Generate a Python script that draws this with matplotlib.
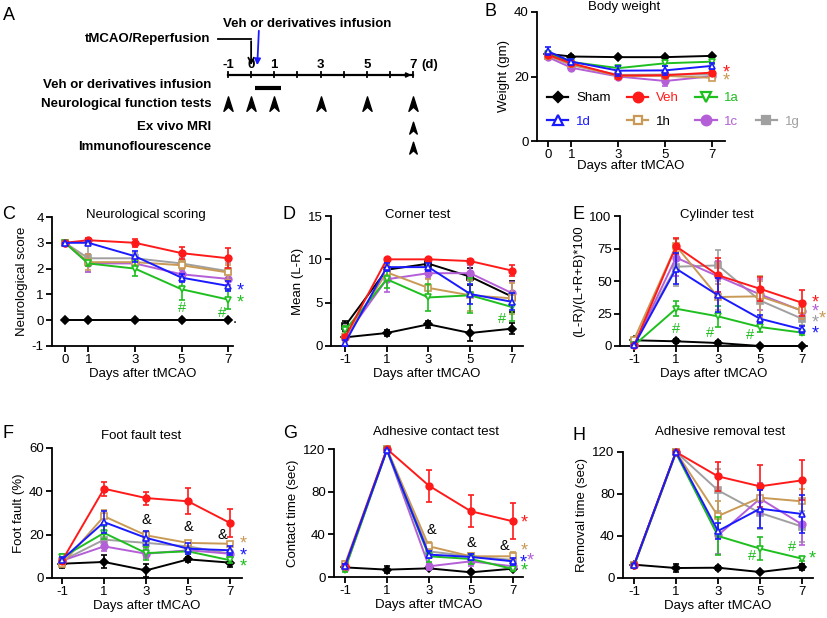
import matplotlib
matplotlib.use("Agg")
import matplotlib.pyplot as plt
from matplotlib.lines import Line2D
from matplotlib.path import Path
import numpy as np

plt.rcParams['font.family'] = ['Liberation Sans', 'DejaVu Sans']
plt.rcParams['axes.unicode_minus'] = False
FS = 9.5

# ---------------- data ----------------
series = ['Sham', 'Veh', '1a', '1d', '1h', '1c', '1g']
draw_order = ['Sham', '1g', '1c', '1h', '1a', 'Veh', '1d']

days_B = [0, 1, 3, 5, 7]
days_C = [0, 1, 3, 5, 7]
days_test = [-1, 1, 3, 5, 7]

B_mean = {'Sham': [27.0, 26.2, 26.0, 26.0, 26.4], 'Veh': [26.7, 24.1, 20.3, 20.4, 21.2],
          '1a': [27.0, 24.5, 22.6, 24.1, 24.6], '1d': [27.8, 24.6, 21.8, 21.9, 23.3],
          '1h': [26.5, 23.8, 20.1, 20.2, 19.6], '1c': [26.0, 22.7, 20.0, 18.6, 20.1],
          '1g': [26.5, 23.5, 20.5, 20.6, 20.6]}
B_err = {'Sham': [0.5, 0.4, 0.4, 0.4, 0.4], 'Veh': [0.8, 0.6, 0.6, 0.6, 0.8],
         '1a': [0.8, 0.6, 0.8, 0.8, 0.8], '1d': [1.2, 0.8, 1.5, 1.5, 1.0],
         '1h': [0.8, 0.6, 0.6, 0.6, 0.8], '1c': [0.6, 0.6, 0.6, 1.5, 0.8],
         '1g': [0.6, 0.6, 0.6, 0.6, 0.6]}

C_mean = {'Sham': [0, 0, 0, 0, 0], 'Veh': [3.0, 3.1, 3.0, 2.6, 2.4],
          '1a': [3.0, 2.2, 2.0, 1.2, 0.8], '1d': [3.0, 3.0, 2.48, 1.65, 1.33],
          '1h': [3.0, 2.25, 2.25, 2.13, 1.85], '1c': [3.0, 2.2, 2.2, 1.78, 1.6],
          '1g': [3.0, 2.4, 2.4, 2.2, 1.9]}
C_err = {'Sham': [0, 0, 0, 0, 0], 'Veh': [0, 0.1, 0.15, 0.22, 0.38],
         '1a': [0, 0.1, 0.3, 0.4, 0.38], '1d': [0, 0.08, 0.22, 0.15, 0.2],
         '1h': [0, 0.3, 0.2, 0.15, 0.3], '1c': [0, 0.35, 0.15, 0.15, 0.25],
         '1g': [0, 0.55, 0.2, 0.2, 0.3]}

D_mean = {'Sham': [1.0, 1.5, 2.5, 1.5, 2.0], 'Veh': [1.0, 10.0, 10.0, 9.8, 8.7],
          '1a': [1.8, 7.7, 5.6, 5.85, 4.5], '1d': [0.35, 9.1, 9.1, 6.0, 5.1],
          '1h': [1.0, 8.5, 6.7, 5.85, 5.5], '1c': [1.0, 7.7, 8.4, 8.4, 6.1],
          '1g': [2.3, 8.8, 9.5, 8.0, 5.7]}
D_err = {'Sham': [0.0, 0.4, 0.4, 0.9, 0.6], 'Veh': [0.3, 0.2, 0.2, 0.2, 0.65],
         '1a': [0.5, 1.0, 1.6, 2.0, 1.6], '1d': [0.4, 0.5, 0.5, 1.2, 1.0],
         '1h': [0.5, 0.8, 1.0, 1.8, 1.8], '1c': [0.4, 1.5, 0.5, 0.9, 1.3],
         '1g': [0.6, 0.5, 0.3, 1.0, 1.8]}

E_mean = {'Sham': [4.4, 3.6, 2.3, 0, 0], 'Veh': [0.5, 76.7, 54.4, 44, 33.3],
          '1a': [0.5, 28.7, 22.8, 14.6, 10.3], '1d': [0.5, 59.5, 39, 21, 12.8],
          '1h': [5.0, 77, 37.7, 38.2, 27.4], '1c': [0.5, 68, 53.6, 39.7, 27],
          '1g': [2.0, 61, 62, 35, 21]}
E_err = {'Sham': [0.5, 1.5, 1.5, 0, 0], 'Veh': [0.5, 6, 13, 9, 10],
         '1a': [0.5, 6, 8, 4, 2], '1d': [0.5, 12, 13, 3, 2.5],
         '1h': [1.5, 5, 10, 16, 7], '1c': [0.5, 14, 12, 12, 6],
         '1g': [1.0, 15, 12, 15, 5]}

F_mean = {'Sham': [6.6, 7.4, 3.5, 8.6, 7.1], 'Veh': [8.0, 41.2, 36.9, 35.4, 25.4],
          '1a': [9.5, 20.8, 11.5, 12.3, 8.2], '1d': [8.5, 25.8, 18.5, 13.5, 12.8],
          '1h': [6.5, 28.5, 19.7, 16.2, 15.8], '1c': [8.0, 14.6, 11.2, 12.8, 11.2],
          '1g': [8.0, 17.7, 16.2, 14.6, 11.2]}
F_err = {'Sham': [2.2, 3.0, 3.0, 1.0, 2.0], 'Veh': [1.0, 3.2, 3.0, 6.0, 6.5],
         '1a': [1.5, 3.0, 3.0, 1.0, 1.5], '1d': [1.0, 5.0, 3.2, 2.5, 2.0],
         '1h': [1.0, 3.0, 2.0, 1.0, 1.0], '1c': [1.0, 2.0, 2.0, 1.0, 1.0],
         '1g': [1.0, 2.5, 2.0, 1.5, 1.5]}

G_mean = {'Sham': [9.0, 6.9, 8.1, 4.4, 7.8], 'Veh': [10, 120, 85.6, 61.6, 52.2],
          '1a': [7, 119, 19.4, 16.9, 7.5], '1d': [10, 119, 21, 18.8, 14.7],
          '1h': [12, 120, 28.8, 19.4, 19.4], '1c': [8, 119, 10, 14.7, 10],
          '1g': [10, 120, 24, 19.4, 16]}
G_err = {'Sham': [1, 3, 2, 1, 1], 'Veh': [2, 0, 15, 15, 17],
         '1a': [2, 0, 5, 5, 2], '1d': [2, 0, 3, 3, 3],
         '1h': [3, 0, 4, 3, 4], '1c': [2, 0, 3, 4, 3],
         '1g': [2, 0, 4, 3, 3]}

H_mean = {'Sham': [12.7, 9.5, 9.8, 5.7, 10.5], 'Veh': [12, 120, 96.8, 87.3, 93],
          '1a': [11, 119, 40, 28, 18.4], '1d': [12, 120, 44.8, 66, 61],
          '1h': [12, 120, 59, 76.5, 73], '1c': [12, 120, 40.6, 75.6, 51],
          '1g': [12, 120, 83.5, 62, 49]}
H_err = {'Sham': [1, 4, 2, 1, 3], 'Veh': [1, 0, 14, 20, 19],
         '1a': [1, 0, 18, 11, 2], '1d': [1, 0, 8, 18, 18],
         '1h': [2, 0, 14, 12, 12], '1c': [1, 0, 18, 15, 20],
         '1g': [1, 0, 20, 15, 15]}

# significance marks: (text, day, value, series-colour key)
B_marks = [('*', 7.6, 21.1, 'Veh'), ('*', 7.6, 18.6, '1h')]
C_marks = [('*', 7.5, 1.15, '1d'), ('*', 7.5, 0.68, '1a'), ('#', 5.0, 0.48, '1a'),
           ('#', 6.75, 0.26, '1a'), ('.', 7.3, 0.05, 'Sham')]
D_marks = [('#', 6.52, 3.15, '1a')]
E_marks = [('*', 7.62, 33, 'Veh'), ('*', 7.62, 26, '1c'), ('*', 7.95, 21, '1h'),
           ('*', 7.62, 17.7, '1g'), ('*', 7.62, 9.5, '1d'), ('#', 1.0, 13.3, '1a'),
           ('#', 2.62, 10.3, '1a'), ('#', 4.52, 8.2, '1a')]
F_marks = [('&', 3.0, 27, 'Sham'), ('&', 5.0, 23.5, 'Sham'), ('&', 6.62, 19.7, 'Sham'),
           ('*', 7.62, 15.8, '1h'), ('*', 7.62, 10.2, '1d'), ('*', 7.62, 5.1, '1a')]
G_marks = [('&', 3.14, 44.4, 'Sham'), ('&', 5.0, 32, 'Sham'), ('&', 6.57, 28.8, 'Sham'),
           ('*', 7.52, 50.6, 'Veh'), ('*', 7.52, 24.7, '1h'), ('*', 7.5, 13, '1d'),
           ('*', 7.82, 15.3, '1c'), ('*', 7.52, 5.3, '1a')]
H_marks = [('#', 4.62, 20.6, '1a'), ('#', 6.52, 29.5, '1a'), ('*', 7.5, 18.4, '1a')]

# schematic (panel A)
timeline_days = list(range(-1, 8))
timeline_labels = ['-1', '0', '1', '3', '5', '7']
test_days = [-1, 0, 1, 3, 5, 7]
mri_days = [7]
if_days = [7]
infusion_span = [0.17, 1.29]

# ---------------- styles ----------------
colors = {'Sham': '#000000', 'Veh': '#ff1a1a', '1a': '#1fbf1f', '1d': '#1a1aff',
          '1h': '#c99a55', '1c': '#b45fd8', '1g': '#a0a0a0'}
markers = {'Sham': 'D', 'Veh': 'o', '1a': 'v', '1d': '^', '1h': 's', '1c': 'o', '1g': 's'}
filled = {'Sham': True, 'Veh': True, '1a': False, '1d': False, '1h': False, '1c': True, '1g': True}
msize = {'Sham': 3.6, 'Veh': 4.8, '1a': 4.6, '1d': 4.6, '1h': 4.2, '1c': 4.8, '1g': 4.2}
legend_text_colors = {'Sham': '#000000', 'Veh': '#ff1a1a', '1a': '#1fbf1f', '1d': '#1a1aff',
                      '1h': '#000000', '1c': '#b45fd8', '1g': '#a0a0a0'}

W, H = 827, 618
fig = plt.figure(figsize=(W / 100, H / 100), dpi=100)


def ax_px(l, t, r, b):
    return fig.add_axes([l / W, 1 - b / H, (r - l) / W, (b - t) / H])


def style_axes(ax, xlim, ylim, xticks, yticks):
    ax.set_xlim(*xlim)
    ax.set_ylim(*ylim)
    ax.set_xticks(xticks)
    ax.set_yticks(yticks)
    for s in ('top', 'right'):
        ax.spines[s].set_visible(False)
    for s in ('left', 'bottom'):
        ax.spines[s].set_linewidth(1.3)
    ax.tick_params(direction='out', length=4, width=1.3, labelsize=FS, pad=2)
    ax.set_facecolor('none')


def draw(ax, days, mean, err, overrides=None):
    overrides = overrides or {}
    for z, name in enumerate(draw_order):
        c = overrides.get(name, {}).get('color', colors[name])
        mfc = overrides.get(name, {}).get('mfc', c if filled[name] else 'white')
        ax.errorbar(days, mean[name], yerr=err[name], color=c, marker=markers[name],
                    ms=msize[name], mfc=mfc, mec=c, mew=1.2, lw=1.4, elinewidth=1.2,
                    capsize=2.5, capthick=1.2, clip_on=False, zorder=3 + z)


def marks(ax, lst):
    for txt, x, y, key in lst:
        if txt == '*':
            ax.text(x, y, txt, color=colors[key], fontsize=13, ha='center', va='center',
                    clip_on=False, zorder=20)
        else:
            ax.text(x, y, txt, color=colors[key], fontsize=FS + 1, ha='center', va='center',
                    clip_on=False, zorder=20)


def ptext(x, y, s, **kw):
    fig.text(x / W, 1 - y / H, s, **kw)


# ---------------- panel A ----------------
axA = ax_px(0, 0, 430, 170)
px_per_day = 23.125
axA.set_xlim(-1 - 228 / px_per_day, -1 + 202 / px_per_day)
axA.set_ylim(170, 0)
axA.axis('off')
bold = dict(fontsize=FS, fontweight='bold', va='center')
axA.plot([timeline_days[0], timeline_days[-1]], [75, 75], color='black', lw=1.6)
axA.annotate('', xy=(timeline_days[-1] + 0.05, 75), xytext=(timeline_days[-1] - 0.3, 75),
             arrowprops=dict(arrowstyle='-|>', color='black', lw=1.2, mutation_scale=7))
for d in timeline_days:
    axA.plot([d, d], [72.5, 77.5], color='black', lw=1.3)
for lab in timeline_labels:
    axA.text(int(lab), 65, lab, ha='center', **bold)
axA.text(timeline_days[-1] + 0.38, 65, '(d)', ha='left', **bold)
axA.text(-1.216, 24, 'Veh or derivatives infusion', ha='left', **bold)
axA.text(-1.78, 39, 'tMCAO/Reperfusion', ha='right', **bold)
axA.plot([-1.45, 0], [39, 39], color='black', lw=1.3)
axA.annotate('', xy=(0, 68), xytext=(0, 38.4),
             arrowprops=dict(arrowstyle='->', color='black', lw=1.3, mutation_scale=10))
axA.annotate('', xy=(0.26, 68), xytext=(0.34, 28),
             arrowprops=dict(arrowstyle='-|>', color='#1a1aff', lw=1.3, mutation_scale=9))
axA.text(-1.735, 85, 'Veh or derivatives infusion', ha='right', **bold)
axA.plot(infusion_span, [88, 88], color='black', lw=3, solid_capstyle='butt')
axA.text(-1.735, 104, 'Neurological function tests', ha='right', **bold)
axA.text(-1.735, 127, 'Ex vivo MRI', ha='right', **bold)
axA.text(-1.735, 147, 'Immunoflourescence', ha='right', **bold)
head = Path([(0, 1), (0.6, -0.9), (0, -0.35), (-0.6, -0.9), (0, 1)],
            [Path.MOVETO, Path.LINETO, Path.LINETO, Path.LINETO, Path.CLOSEPOLY])
axA.plot(test_days, [104] * len(test_days), ls='none', marker=head, ms=11, color='black')
axA.plot(mri_days, [128] * len(mri_days), ls='none', marker=head, ms=9, color='black')
axA.plot(if_days, [148] * len(if_days), ls='none', marker=head, ms=9, color='black')
ptext(3, 15, 'A', fontsize=13, va='center', ha='left')

# ---------------- panel B ----------------
axB = ax_px(537, 12, 725, 141)
style_axes(axB, (-0.47, 7.55), (0, 40), days_B, [0, 20, 40])
draw(axB, days_B, B_mean, B_err)
marks(axB, B_marks)
axB.set_ylabel('Weight (gm)', fontsize=FS, labelpad=3)
axB.set_xlabel('Days after tMCAO', fontsize=FS, labelpad=-1)
ptext(624, 7, 'Body weight', fontsize=FS, ha='center', va='center')
ptext(485, 12, 'B', fontsize=13, va='center', ha='left')
order_leg = ['Sham', '1d', 'Veh', '1h', '1a', '1c', None, '1g']
handles, labels = [], []
for name in order_leg:
    if name is None:
        handles.append(Line2D([], [], alpha=0))
        labels.append('')
        continue
    handles.append(Line2D([], [], color=colors[name], marker=markers[name],
                          ms=msize[name] * 1.45, mfc=colors[name] if filled[name] else 'white',
                          mec=colors[name], mew=1.6, lw=1.6))
    labels.append(name)
leg = axB.legend(handles, labels, ncol=4, loc='upper left', frameon=False,
                 bbox_to_anchor=(547 / W, 1 - 92 / H), bbox_transform=fig.transFigure,
                 fontsize=FS, handlelength=1.6, handletextpad=0.6, columnspacing=1.25,
                 labelspacing=0.85, borderpad=0, borderaxespad=0)
for t, name in zip(leg.get_texts(), order_leg):
    if name is not None:
        t.set_color(legend_text_colors[name])

# ---------------- panel C ----------------
axC = ax_px(52, 217, 233, 346)
style_axes(axC, (-0.56, 7.21), (-1, 4), days_C, [-1, 0, 1, 2, 3, 4])
draw(axC, days_C, C_mean, C_err)
marks(axC, C_marks)
axC.set_ylabel('Neurological score', fontsize=FS, labelpad=3)
axC.set_xlabel('Days after tMCAO', fontsize=FS, labelpad=1)
ptext(146, 215, 'Neurological scoring', fontsize=FS, ha='center', va='center')
ptext(2, 215, 'C', fontsize=13, va='center', ha='left')

# ---------------- panel D ----------------
axD = ax_px(331, 216, 523, 346)
style_axes(axD, (-1.67, 7.53), (0, 15), days_test, [0, 5, 10, 15])
draw(axD, days_test, D_mean, D_err, overrides={'1g': {'color': 'black', 'mfc': '#a0a0a0'}})
marks(axD, D_marks)
axD.set_ylabel('Mean (L-R)', fontsize=FS, labelpad=3)
axD.set_xlabel('Days after tMCAO', fontsize=FS, labelpad=1)
ptext(418, 215, 'Corner test', fontsize=FS, ha='center', va='center')
ptext(283, 215, 'D', fontsize=13, va='center', ha='left')

# ---------------- panel E ----------------
axE = ax_px(620, 216, 807, 346)
style_axes(axE, (-1.67, 7.24), (0, 100), days_test, [0, 25, 50, 75, 100])
draw(axE, days_test, E_mean, E_err)
marks(axE, E_marks)
axE.set_ylabel('(L-R)/(L+R+B)*100', fontsize=FS, labelpad=3)
axE.set_xlabel('Days after tMCAO', fontsize=FS, labelpad=1)
ptext(717, 215, 'Cylinder test', fontsize=FS, ha='center', va='center')
ptext(573, 215, 'E', fontsize=13, va='center', ha='left')

# ---------------- panel F ----------------
axF = ax_px(52, 448, 242, 578)
style_axes(axF, (-1.48, 7.57), (0, 60), days_test, [0, 20, 40, 60])
draw(axF, days_test, F_mean, F_err)
marks(axF, F_marks)
axF.set_ylabel('Foot fault (%)', fontsize=FS, labelpad=3)
axF.set_xlabel('Days after tMCAO', fontsize=FS, labelpad=1)
ptext(141, 436, 'Foot fault test', fontsize=FS, ha='center', va='center')
ptext(2, 434, 'F', fontsize=13, va='center', ha='left')

# ---------------- panel G ----------------
axG = ax_px(334, 449, 523, 577)
style_axes(axG, (-1.52, 7.48), (0, 120), days_test, [0, 40, 80, 120])
draw(axG, days_test, G_mean, G_err)
marks(axG, G_marks)
axG.set_ylabel('Contact time (sec)', fontsize=FS, labelpad=3)
axG.set_xlabel('Days after tMCAO', fontsize=FS, labelpad=1)
ptext(436, 432, 'Adhesive contact test', fontsize=FS, ha='center', va='center')
ptext(283, 433, 'G', fontsize=13, va='center', ha='left')

# ---------------- panel H ----------------
axH = ax_px(623, 452, 813, 578)
style_axes(axH, (-1.52, 7.52), (0, 120), days_test, [0, 40, 80, 120])
draw(axH, days_test, H_mean, H_err)
marks(axH, H_marks)
axH.set_ylabel('Removal time (sec)', fontsize=FS, labelpad=3)
axH.set_xlabel('Days after tMCAO', fontsize=FS, labelpad=1)
ptext(720, 432, 'Adhesive removal test', fontsize=FS, ha='center', va='center')
ptext(573, 435, 'H', fontsize=13, va='center', ha='left')

fig.savefig('out.png', dpi=100)
